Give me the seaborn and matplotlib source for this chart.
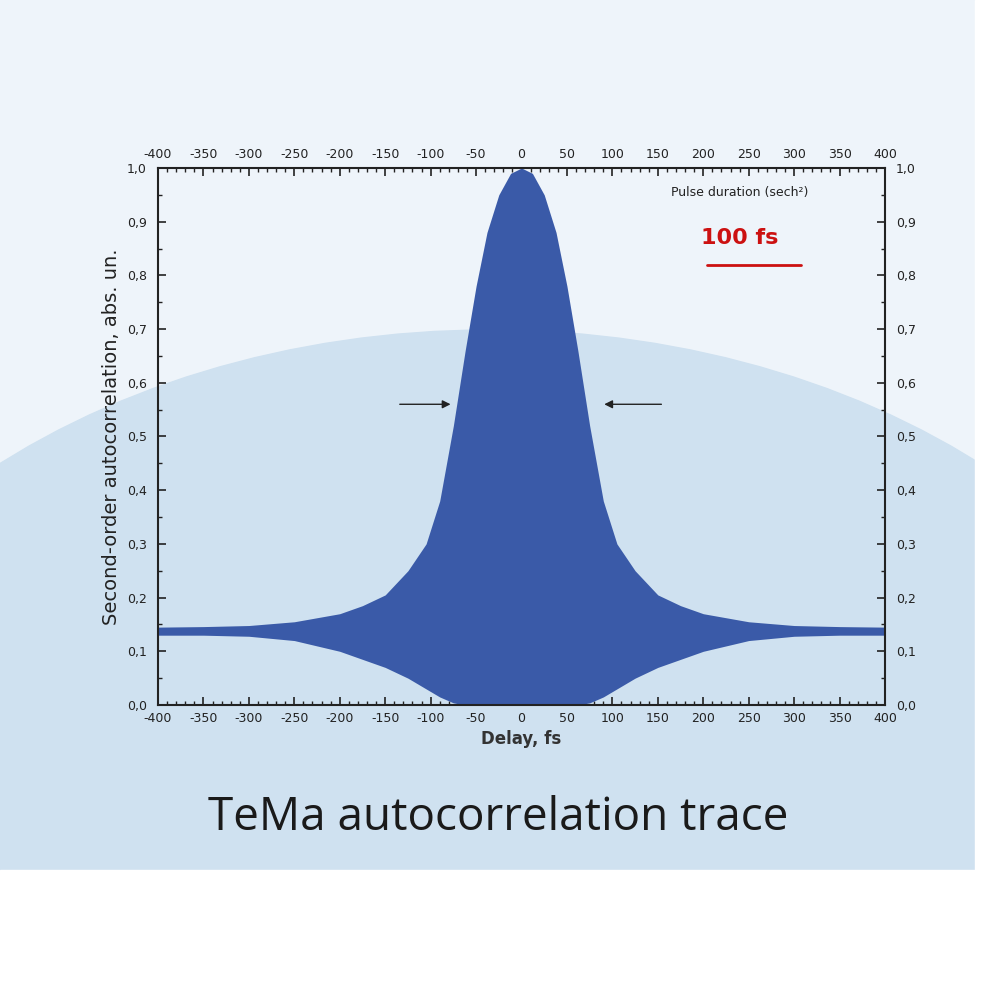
import numpy as np
import matplotlib
matplotlib.use("Agg")
import matplotlib.pyplot as plt
import seaborn as sns
from matplotlib.patches import Ellipse, Rectangle
from matplotlib.ticker import MultipleLocator, FuncFormatter

sns.set_theme(style="ticks")
plt.rcParams['font.family'] = ['DejaVu Sans']
plt.rcParams['axes.unicode_minus'] = False

delay = [-400, -350, -300, -250, -200, -175, -150, -125, -105, -90, -75, -62, -50, -38, -25, -12, 0,
         12, 25, 38, 50, 62, 75, 90, 105, 125, 150, 175, 200, 250, 300, 350, 400]
upper = [0.145, 0.146, 0.148, 0.155, 0.17, 0.185, 0.205, 0.25, 0.30, 0.38, 0.52, 0.66, 0.78, 0.88, 0.95, 0.99, 1.0,
         0.99, 0.95, 0.88, 0.78, 0.66, 0.52, 0.38, 0.30, 0.25, 0.205, 0.185, 0.17, 0.155, 0.148, 0.146, 0.145]
lower = [0.13, 0.13, 0.128, 0.12, 0.10, 0.085, 0.07, 0.05, 0.03, 0.015, 0.004, 0.0, 0.0, 0.0, 0.0, 0.0, 0.0,
         0.0, 0.0, 0.0, 0.0, 0.0, 0.004, 0.015, 0.03, 0.05, 0.07, 0.085, 0.10, 0.12, 0.128, 0.13, 0.13]

fig = plt.figure(figsize=(10, 10), dpi=100)
fig.patch.set_facecolor("white")
bg = fig.add_axes([0, 0, 1, 1])
bg.set_xlim(0, 1000); bg.set_ylim(1000, 0); bg.axis("off")
bg.add_patch(Rectangle((0, 0), 975, 870, color="#eef4fa", zorder=0))
bg.add_patch(Ellipse((490, 880), 1500, 1100, color="#cfe1f0", zorder=1))
bg.add_patch(Rectangle((0, 870), 1000, 200, color="white", zorder=2))
bg.add_patch(Rectangle((975, 0), 30, 1000, color="white", zorder=2))

ax = fig.add_axes([0.158, 0.295, 0.727, 0.537])
ax.patch.set_alpha(0)
ax.fill_between(delay, lower, upper, color="#3a5aa8", lw=0)
ax.set_xlim(-400, 400); ax.set_ylim(0, 1.0)
ax.xaxis.set_major_locator(MultipleLocator(50)); ax.xaxis.set_minor_locator(MultipleLocator(10))
ax.yaxis.set_major_locator(MultipleLocator(0.1)); ax.yaxis.set_minor_locator(MultipleLocator(0.05))
ax.yaxis.set_major_formatter(FuncFormatter(lambda v, p: f"{v:.1f}".replace(".", ",")))
ax.tick_params(which="both", direction="in", top=True, right=True, labeltop=True, labelright=True,
               labelsize=9, colors="#222222")
ax.tick_params(axis="y", pad=8)
ax.tick_params(axis="x", pad=5)
ax.tick_params(which="major", length=6, width=1.2)
ax.tick_params(which="minor", length=3)
for s in ax.spines.values():
    s.set_linewidth(1.5); s.set_color("#222222")
ax.set_xlabel("Delay, fs", fontsize=12, fontweight="bold", color="#333333")
ax.set_ylabel("Second-order autocorrelation, abs. un.", fontsize=14, color="#222222", labelpad=4)

ax.annotate("", xy=(-75, 0.56), xytext=(-137, 0.56),
            arrowprops=dict(arrowstyle="-|>", color="#222222", lw=1))
ax.annotate("", xy=(88, 0.56), xytext=(157, 0.56),
            arrowprops=dict(arrowstyle="-|>", color="#222222", lw=1))
ax.text(0.8, 0.955, "Pulse duration (sech²)", transform=ax.transAxes, ha="center", va="center",
        fontsize=9, color="#222222")
ax.text(0.8, 0.87, "100 fs", transform=ax.transAxes, ha="center", va="center",
        fontsize=16, fontweight="bold", color="#cc1111")
ax.plot([0.755, 0.885], [0.82, 0.82], transform=ax.transAxes, color="#cc1111", lw=2)

fig.text(0.498, 0.182, "TeMa autocorrelation trace", ha="center", va="center",
         fontsize=33, color="#1a1a1a", family=["Open Sans", "DejaVu Sans"])
fig.savefig("out.png", dpi=100)
